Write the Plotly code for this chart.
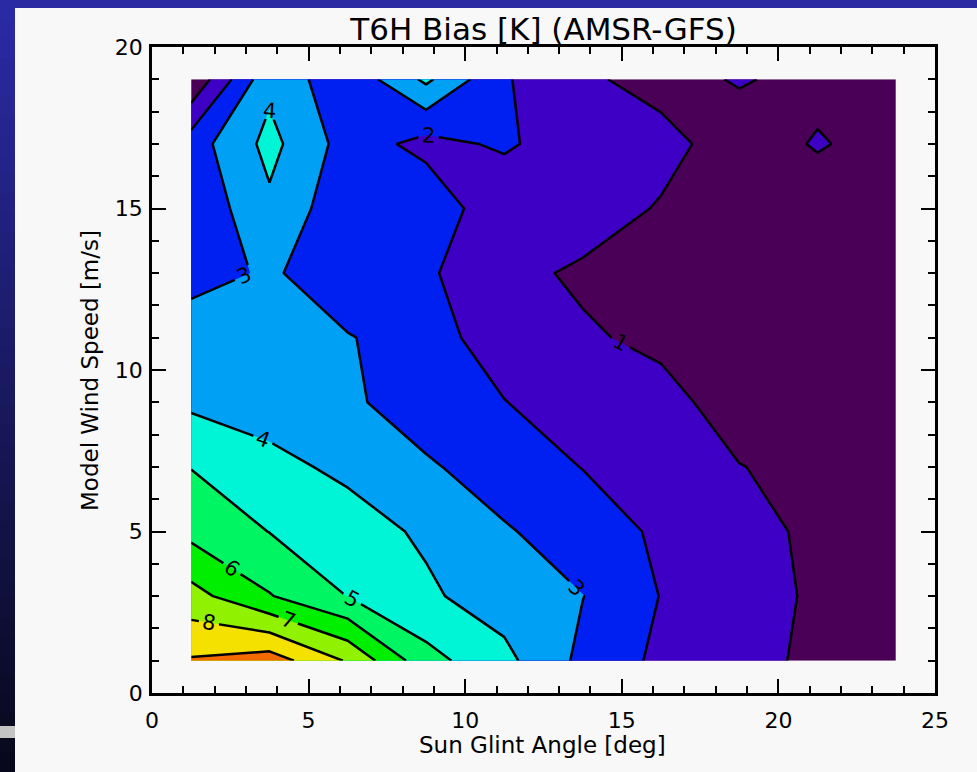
import plotly.graph_objects as go

# ---- data (bin centres) ----
sun_glint_angle = [1.25, 3.75, 6.25, 8.75, 11.25, 13.75, 16.25, 18.75, 21.25, 23.75]
wind_speed = [1, 3, 5, 7, 9, 11, 13, 15, 17, 19]
# T6H bias [K], one row per wind-speed bin
bias_ws01 = [9.10, 9.50, 7.90, 5.35, 4.27, 2.76, 1.78, 1.30, 0.81, 0.50]
bias_ws03 = [7.36, 6.06, 4.98, 4.15, 3.53, 3.02, 1.97, 1.40, 0.86, 0.60]
bias_ws05 = [5.72, 4.98, 4.38, 3.86, 3.11, 2.44, 1.86, 1.35, 0.79, 0.50]
bias_ws07 = [4.97, 4.23, 3.82, 3.15, 2.43, 1.98, 1.60, 1.05, 0.50, 0.40]
bias_ws09 = [3.81, 3.64, 3.20, 2.40, 2.04, 1.21, 1.60, 0.17, 0.40, 0.30]
bias_ws11 = [3.60, 3.50, 3.05, 2.60, 1.26, 1.23, 0.60, 0.30, 0.30, 0.20]
bias_ws13 = [2.60, 3.13, 2.41, 2.10, 1.50, 0.72, 0.50, 0.20, 0.20, 0.20]
bias_ws15 = [2.21, 3.80, 2.30, 2.85, 1.10, 1.90, 0.85, 0.30, 0.05, 0.10]
bias_ws17 = [2.51, 4.30, 2.58, 1.65, 2.17, 1.32, 1.60, 0.10, 1.15, 0.30]
bias_ws19 = [0.13, 3.75, 2.25, 4.20, 2.08, 1.30, 0.37, 1.15, 0.49, 0.20]

band_colors = ["#4a0056", "#3f00c6", "#0020f2", "#00a0f5", "#00f5d6",
               "#00f562", "#00ee00", "#90f200", "#f5e100", "#f56a00"]

z = [bias_ws01, bias_ws03, bias_ws05, bias_ws07, bias_ws09,
     bias_ws11, bias_ws13, bias_ws15, bias_ws17, bias_ws19]

n = len(band_colors)
colorscale = [[i / (n - 1), c] for i, c in enumerate(band_colors)]

FONT = "DejaVu Sans"

fig = go.Figure()
fig.add_trace(go.Contour(
    x=sun_glint_angle, y=wind_speed, z=z,
    contours=dict(start=1, end=9, size=1, coloring="fill", showlabels=True,
                  labelfont=dict(family=FONT, size=21, color="black")),
    colorscale=colorscale, showscale=False,
    line=dict(color="black", width=2.5, smoothing=0),
    hoverinfo="skip",
))

W, H = 977, 772
L, R, T, B = 152, 42, 47, 79
pw, ph = W - L - R, H - T - B


def px2paper_x(px):
    return (px - L) / pw


def px2paper_y(py):
    return (H - B - py) / ph


shapes = []
# slide background (dark blue) - top strip
shapes.append(dict(type="rect", xref="paper", yref="paper", layer="below",
                   x0=px2paper_x(0), x1=px2paper_x(W), y0=px2paper_y(8), y1=px2paper_y(0),
                   fillcolor="#2b2aa2", line=dict(width=0)))
# left strip with vertical gradient
nb = 40
c0 = (43, 42, 165)
c1 = (8, 8, 28)
for i in range(nb):
    t = i / (nb - 1)
    col = tuple(int(round(c0[k] + (c1[k] - c0[k]) * t)) for k in range(3))
    shapes.append(dict(type="rect", xref="paper", yref="paper", layer="below",
                       x0=px2paper_x(0), x1=px2paper_x(15),
                       y0=px2paper_y(H * (i + 1) / nb + 1), y1=px2paper_y(H * i / nb),
                       fillcolor="rgb(%d,%d,%d)" % col, line=dict(width=0)))
shapes.append(dict(type="rect", xref="paper", yref="paper", layer="below",
                   x0=px2paper_x(0), x1=px2paper_x(15), y0=px2paper_y(738), y1=px2paper_y(726),
                   fillcolor="#c4c4c4", line=dict(width=0)))

axis_common = dict(
    showgrid=False, zeroline=False, showline=True, linecolor="black", linewidth=2.5,
    mirror="ticks", ticks="inside", ticklen=14, tickwidth=2, tickcolor="black",
    tickfont=dict(family=FONT, size=22, color="black"),
    minor=dict(ticks="inside", ticklen=7, tickwidth=2, tickcolor="black", dtick=1, showgrid=False),
)

fig.update_layout(
    width=W, height=H,
    margin=dict(l=L, r=R, t=T, b=B, pad=0),
    paper_bgcolor="#f8f8f8", plot_bgcolor="#f8f8f8",
    shapes=shapes,
    title=dict(text="T6H Bias [K] (AMSR-GFS)", x=(L + pw / 2) / W, xanchor="center",
               y=1 - 29 / H, yanchor="middle", yref="container",
               font=dict(family=FONT, size=31, color="black")),
    xaxis=dict(range=[0, 25], tick0=0, dtick=5, ticklabelstandoff=6, **axis_common),
    yaxis=dict(range=[0, 20], tick0=0, dtick=5, ticklabelstandoff=2, **axis_common),
    annotations=[
        dict(text="Sun Glint Angle [deg]", xref="paper", yref="paper",
             x=px2paper_x(542), y=px2paper_y(745), xanchor="center", yanchor="middle",
             showarrow=False, font=dict(family=FONT, size=23, color="black")),
        dict(text="Model Wind Speed [m/s]", xref="paper", yref="paper", textangle=-90,
             x=px2paper_x(90), y=px2paper_y(371), xanchor="center", yanchor="middle",
             showarrow=False, font=dict(family=FONT, size=23, color="black")),
    ],
)

fig.write_html("out.html")
